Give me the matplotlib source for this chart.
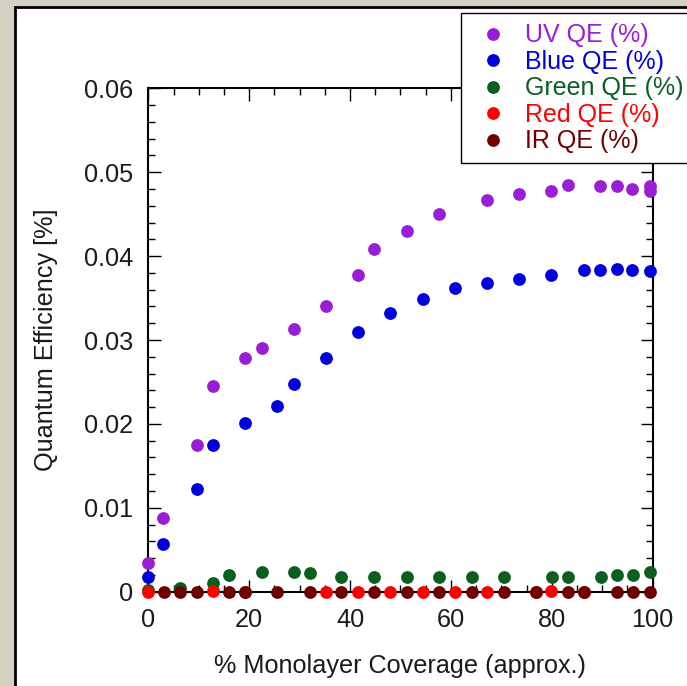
import matplotlib
matplotlib.use("Agg")
import matplotlib.pyplot as plt
from matplotlib.patches import Rectangle
from matplotlib.ticker import MultipleLocator, FuncFormatter

plt.rcParams['font.family'] = ['Liberation Sans', 'DejaVu Sans']

# 데이터
uv_x = [0, 3.0, 9.7, 12.8, 19.1, 22.5, 28.8, 35.2, 41.6, 44.7, 51.3, 57.7, 67.2, 73.5, 79.9, 83.2, 89.6, 92.9, 96.0, 99.4, 99.4]
uv_y = [0.0034, 0.0088, 0.0175, 0.0245, 0.0278, 0.0290, 0.0313, 0.0341, 0.0378, 0.0408, 0.0430, 0.0450, 0.0467, 0.0474, 0.0478, 0.0485, 0.0483, 0.0483, 0.0480, 0.0484, 0.0478]

blue_x = [0, 3.0, 9.7, 12.8, 19.1, 25.5, 28.8, 35.2, 41.6, 48.0, 54.4, 60.8, 67.2, 73.5, 79.9, 86.3, 89.6, 92.9, 96.0, 99.4]
blue_y = [0.0018, 0.0057, 0.0123, 0.0175, 0.0201, 0.0221, 0.0248, 0.0278, 0.0310, 0.0332, 0.0349, 0.0362, 0.0368, 0.0373, 0.0378, 0.0383, 0.0383, 0.0385, 0.0383, 0.0382]

green_x = [0, 6.3, 12.8, 16.1, 22.5, 28.8, 32.0, 38.3, 44.7, 51.3, 57.7, 64.1, 70.5, 80.0, 83.3, 89.7, 93.0, 96.1, 99.4]
green_y = [0.0002, 0.0004, 0.0010, 0.0020, 0.0023, 0.0023, 0.0022, 0.0018, 0.0017, 0.0017, 0.0017, 0.0017, 0.0017, 0.0017, 0.0017, 0.0018, 0.0020, 0.0020, 0.0023]

red_x = [0, 12.8, 19.1, 35.2, 41.6, 48.0, 54.4, 60.8, 67.2, 76.9, 79.9, 86.3]
red_y = [0.0, 0.0001, 0.0, 0.0, 0.0, 0.0, 0.0, 0.0, 0.0, 0.0, 0.0001, 0.0]

ir_x = [3.2, 6.3, 9.7, 16.1, 19.1, 25.5, 32.0, 38.3, 44.7, 51.3, 57.7, 64.1, 70.5, 76.9, 83.3, 86.3, 93.0, 96.1, 99.4]
ir_y = [0.0] * len(ir_x)

series = [
    ("UV QE (%)", uv_x, uv_y, "#9a1ed4"),
    ("Blue QE (%)", blue_x, blue_y, "#0000dc"),
    ("Green QE (%)", green_x, green_y, "#0b5e1e"),
    ("Red QE (%)", red_x, red_y, "#ff0000"),
    ("IR QE (%)", ir_x, ir_y, "#6e0000"),
]

fig = plt.figure(figsize=(6.87, 6.86), dpi=100)
fig.patch.set_facecolor("#d4d1c1")

# 흰색 패널 + 검은 테두리
panel = Rectangle((15 / 687, -0.1), 1.2, 1.1 - 7 / 686, transform=fig.transFigure,
                  facecolor="white", edgecolor="black", linewidth=2.0, zorder=-10)
fig.patches.append(panel)

ax = fig.add_axes([148.3 / 687, 1 - 591.7 / 686, 504.3 / 687, 503.4 / 686])
ax.set_facecolor("none")

for label, xs, ys, col in series:
    ax.plot(xs, ys, linestyle="none", marker="o", markersize=9.2, markeredgewidth=0,
            color=col, label=label, clip_on=False, zorder=3)

ax.set_xlim(0, 100)
ax.set_ylim(0, 0.06)
ax.xaxis.set_major_locator(MultipleLocator(20))
ax.xaxis.set_minor_locator(MultipleLocator(5))
ax.yaxis.set_major_locator(MultipleLocator(0.01))
ax.yaxis.set_minor_locator(MultipleLocator(0.002))
ax.yaxis.set_major_formatter(FuncFormatter(lambda v, p: "0" if abs(v) < 1e-9 else f"{v:.2f}"))

ax.tick_params(which="both", direction="in", top=True, right=True, width=1.0, colors="black")
ax.tick_params(which="major", length=9, labelsize=18.2, labelcolor="#1a1a1a")
ax.tick_params(which="minor", length=5)
ax.tick_params(axis="y", pad=11)
ax.tick_params(axis="x", pad=12)
for s in ax.spines.values():
    s.set_linewidth(1.5)

ax.set_xlabel("% Monolayer Coverage (approx.)", fontsize=18.2, color="#1a1a1a")
ax.set_ylabel("Quantum Efficiency [%]", fontsize=18.2, color="#1a1a1a")
ax.xaxis.set_label_coords(0.5, -0.124)
ax.yaxis.set_label_coords(-0.180, 0.5)

leg = ax.legend(loc="upper left", bbox_to_anchor=(460.7 / 687, 1 - 13.3 / 686),
                bbox_transform=fig.transFigure, borderaxespad=0, fontsize=18,
                frameon=True, fancybox=False, framealpha=1, edgecolor="black",
                handlelength=1.8, handletextpad=0.36, borderpad=0.4, labelspacing=0.1,
                numpoints=1)
leg.get_frame().set_linewidth(1.0)
leg.set_zorder(5)
for txt, (_, _, _, col) in zip(leg.get_texts(), series):
    txt.set_color(col)

fig.savefig("out.png", dpi=100, facecolor=fig.get_facecolor())
